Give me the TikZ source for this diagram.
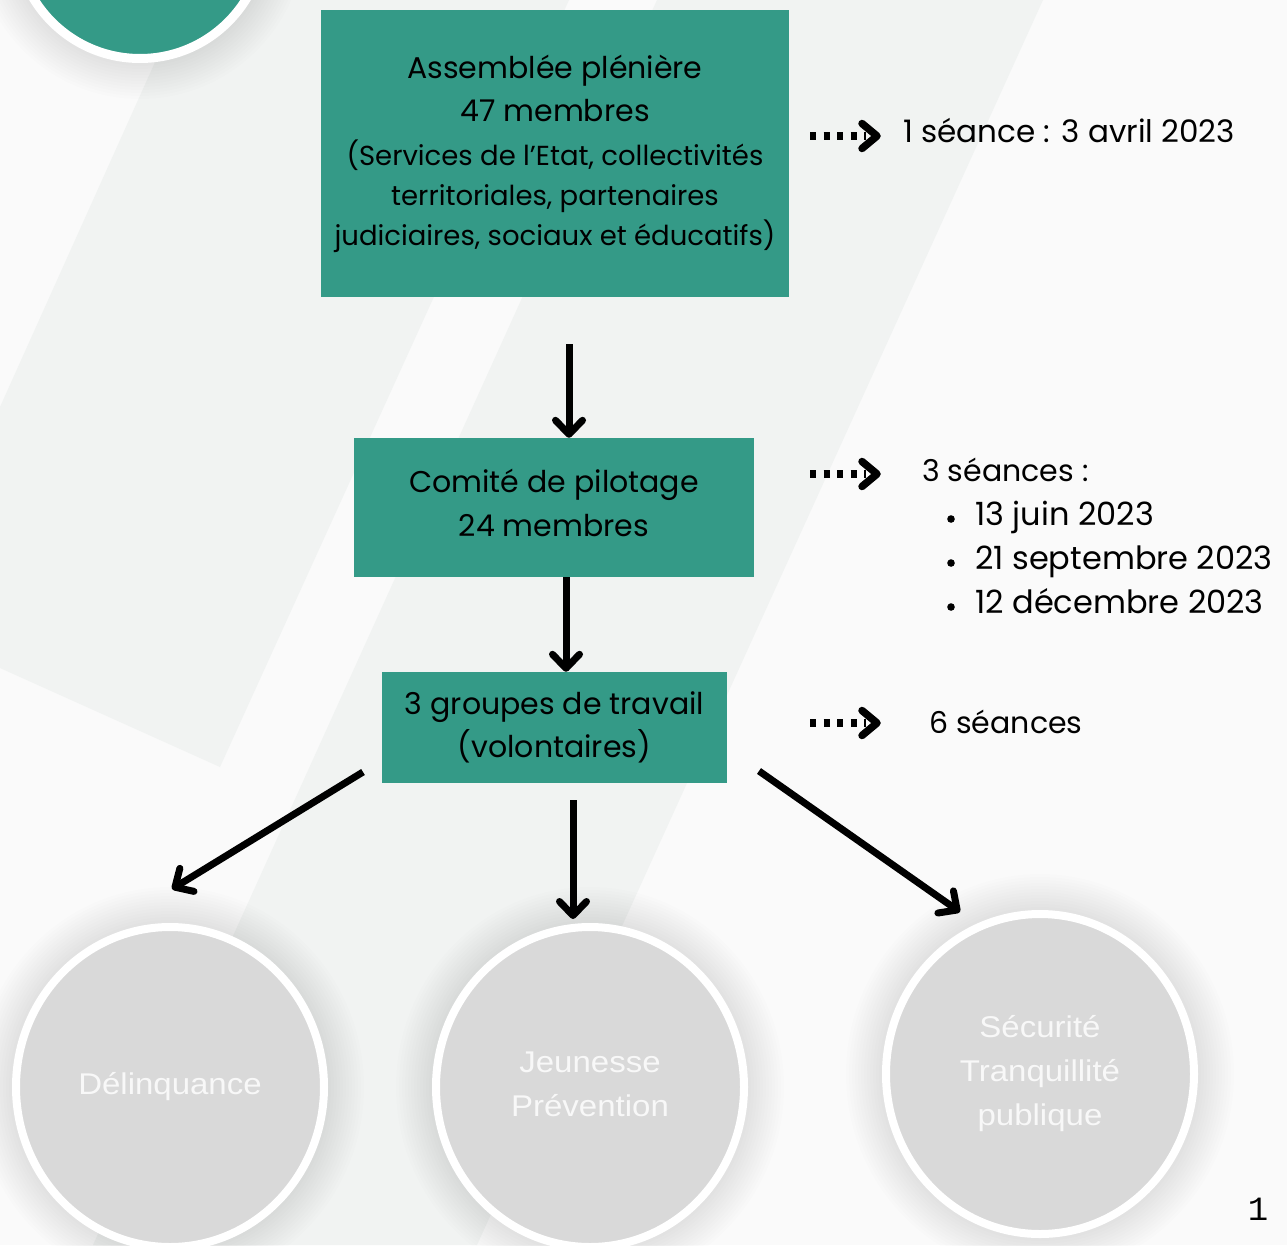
\documentclass[tikz,border=0pt]{standalone}
\usepackage{fontspec}
\setmainfont{Poppins}
\newfontfamily\circfont[FakeStretch=1.1]{Liberation Sans}
\newfontfamily\pagefont{Liberation Mono}
\usetikzlibrary{arrows.meta,calc,shapes.geometric}
\definecolor{bgl}{HTML}{FAFAFA}
\definecolor{bgd}{HTML}{F1F3F2}
\definecolor{boxteal}{HTML}{349A87}
\definecolor{circgray}{HTML}{D9D9D9}
\definecolor{circtext}{HTML}{F8F8F8}
\tikzset{
  box/.style={fill=boxteal, inner sep=0pt, align=center, text=black},
  topic/.style={ellipse, fill=circgray, draw=white, line width=8pt, minimum width=308pt, minimum height=320pt, inner sep=0pt, align=center, text=circtext, font=\circfont\fontsize{30}{44}\selectfont},
  flow/.style={line width=7pt, -{Straight Barb[round, length=14pt, width=27pt]}},
  dots/.style={line width=7.5pt, dash pattern=on 6pt off 7.5pt},
  chev/.style={line width=7.5pt, line cap=round, line join=round},
  side/.style={anchor=base west, inner sep=0pt, font=\fontsize{30}{36}\selectfont},
  sideb/.style={anchor=base west, inner sep=0pt, font=\fontsize{32}{36}\selectfont},
}
\newcommand{\shadowell}[3]{%
  \foreach \k in {1,...,12}{\fill[black, opacity=0.007] (#1) ellipse ({#2+3*\k} and {#3+3*\k});}}
\begin{document}
\begin{tikzpicture}[x=1pt,y=-1pt]
\useasboundingbox (0,0) rectangle (1287,1245);
\clip (0,0) rectangle (1287,1245);
% background
\fill[bgl] (0,0) rectangle (1287,1245);
\fill[bgd] (183,0) -- (0,407) -- (0,668) -- (220,767) -- (569,0) -- cycle;
\fill[bgd] (657,0) -- (1043,0) -- (477,1245) -- (93,1245) -- cycle;
% shadows
\coordinate (ctop) at (140,-66);
\coordinate (cc1) at (170,1087);
\coordinate (cc2) at (590,1087);
\coordinate (cc3) at (1040,1074);
\shadowell{ctop}{129}{129}
\shadowell{cc1}{158}{164}
\shadowell{cc2}{158}{164}
\shadowell{cc3}{158}{164}
% top-left circle
\node[circle, fill=boxteal, draw=white, line width=9pt, minimum size=249pt, inner sep=0pt] (topc) at (ctop) {};
% boxes
\node[box, minimum width=468pt, minimum height=287pt, font=\fontsize{27.5}{40}\selectfont] (b1) at (555,153.5)
  {{\fontsize{30}{43}\selectfont Assemblée plénière}\\[3pt]
   {\fontsize{30}{43}\selectfont 47 membres}\\[4pt]
   (Services de l’Etat, collectivités\\
   territoriales, partenaires\\
   judiciaires, sociaux et éducatifs)};
\node[box, minimum width=400pt, minimum height=139pt, text depth=10pt, font=\fontsize{30}{44}\selectfont] (b2) at (554,507.5)
  {Comité de pilotage\\24 membres};
\node[box, minimum width=345pt, minimum height=111pt, font=\fontsize{30}{43}\selectfont] (b3) at (554.5,727.5)
  {3 groupes de travail\\(volontaires)};
% topic circles
\node[topic] (c1) at (cc1) {Délinquance};
\node[topic, text depth=6pt] (c2) at (cc2) {Jeunesse\\Prévention};
\node[topic] (c3) at (cc3) {Sécurité\\Tranquillité\\publique};
% flow arrows
\coordinate (a1s) at (569,344);
\coordinate (a2x) at (566,0);
\coordinate (a3s) at (363,772);
\coordinate (a3e) at (172,889);
\coordinate (a4s) at (573,800);
\coordinate (a4e) at (573,919);
\coordinate (a5s) at (759,771);
\coordinate (a5e) at (960,912);
\draw[flow] (a1s) -- (a1s |- b2.north);
\draw[flow] (b2.south -| a2x) -- (b3.north -| a2x);
\draw[flow] (a3s) -- (a3e);
\draw[flow] (a4s) -- (a4e);
\draw[flow] (a5s) -- (a5e);
% dotted pointers
\foreach \n/\yy in {1/136, 2/474, 3/723}{
  \coordinate (d\n s) at (810,\yy);
  \coordinate (d\n e) at (866,\yy);
  \draw[dots] (d\n s) -- (d\n e);
  \draw[chev] ($(d\n e)+(-4,-12.5)$) -- ($(d\n e)+(11,0)$) -- ($(d\n e)+(-4,12.5)$);
}
% side texts
\node[anchor=base west, inner sep=0pt, font=\fontsize{31}{36}\selectfont] (t1) at (903,142) {1 séance : 3 avril 2023};
\node[side] (t2) at (922,481) {3 séances :};
\node[sideb] (t3) at (975,525) {13 juin 2023};
\node[sideb] (t4) at (975,569) {21 septembre 2023};
\node[sideb] (t5) at (975,613) {12 décembre 2023};
\foreach \yy in {519,563,607}{\fill (951,\yy) circle (3.8pt);}
\node[side] (t6) at (929,733) {6 séances};
% page number
\node[anchor=base, inner sep=0pt, font=\pagefont\fontsize{34}{36}\selectfont] (pg) at (1258,1220) {1};
\end{tikzpicture}
\end{document}
